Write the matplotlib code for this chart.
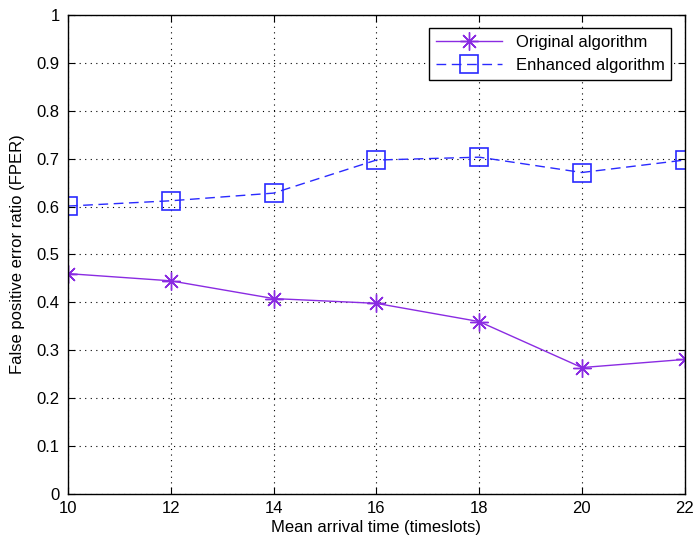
import numpy as np
import matplotlib.pyplot as plt

arrival = [10, 12, 14, 16, 18, 20, 22]
original = [0.460, 0.445, 0.408, 0.398, 0.360, 0.264, 0.281]
enhanced = [0.601, 0.612, 0.628, 0.697, 0.703, 0.671, 0.697]

plt.rcParams['font.family'] = ['Liberation Sans', 'DejaVu Sans']

fig = plt.figure(figsize=(6.93, 5.49), dpi=100)
ax = fig.add_axes([0.098, 0.100, 0.890, 0.873])

purple = '#8a2be2'
blue = '#2a2aff'

ax.plot(arrival, original, color=purple, lw=1, marker=(8, 2, 0), ms=13,
        mew=1, label='Original algorithm')
ax.plot(arrival, original, color=purple, lw=0, marker='.', ms=5)
ax.plot(arrival, enhanced, color=blue, lw=1, ls=(0, (7, 4)), marker='s', ms=13,
        mfc='none', mew=1.2, label='Enhanced algorithm')

ax.set_xlim(10, 22)
ax.set_ylim(0, 1)
ax.set_xticks(np.arange(10, 23, 2))
ax.set_yticks(np.arange(0, 1.01, 0.1))
ax.set_yticklabels(['0', '0.1', '0.2', '0.3', '0.4', '0.5', '0.6', '0.7', '0.8', '0.9', '1'])
ax.tick_params(direction='in', top=True, right=True, labelsize=12, length=5)
ax.tick_params(axis='y', pad=6)
ax.tick_params(axis='x', pad=5)
ax.grid(True, color='k', ls=(0, (1, 4)), lw=0.8)
for s in ax.spines.values():
    s.set_linewidth(1)

ax.set_xlabel('Mean arrival time (timeslots)', fontsize=12, labelpad=3)
ax.set_ylabel('False positive error ratio (FPER)', fontsize=12, labelpad=8)

leg = ax.legend(loc='upper right', fontsize=12, fancybox=False, framealpha=1,
                edgecolor='k', borderaxespad=0.8, handlelength=4,
                borderpad=0.4, labelspacing=0.5)
leg.get_frame().set_linewidth(1)

fig.savefig('out.png', dpi=100)
